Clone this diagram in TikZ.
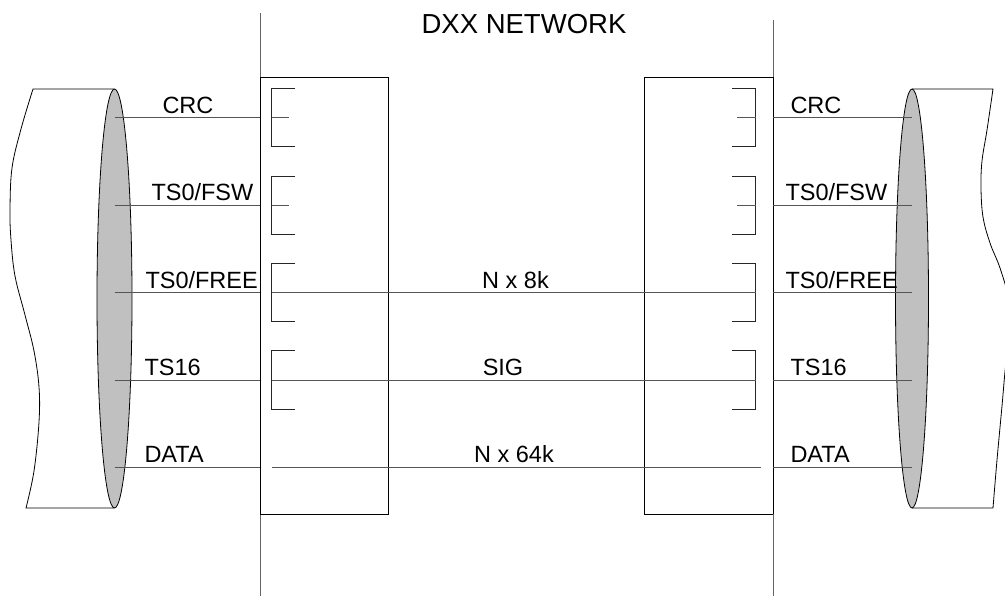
\documentclass[tikz,border=0pt]{standalone}
\usepackage{fontspec}
\setmainfont{Liberation Sans}
\usetikzlibrary{shapes.geometric}
\definecolor{sig}{RGB}{85,85,85}
\definecolor{net}{RGB}{100,100,100}
\definecolor{cylfill}{RGB}{192,192,192}
\begin{document}
\begin{tikzpicture}[x=1pt,y=-1pt,line width=1pt,
  lbl/.style={font=\fontsize{23.5}{28}\selectfont,inner sep=0pt,anchor=base west},
  mid/.style={font=\fontsize{23.5}{28}\selectfont,inner sep=0pt,anchor=base},
  title/.style={font=\fontsize{27.5}{32}\selectfont,inner sep=0pt,anchor=base},
  sigline/.style={draw=sig,line width=1pt},
  netline/.style={draw=net,line width=1pt},
  boxline/.style={draw=black,line width=1pt},
  brk/.style={draw=black!85,line width=1pt},
  cyl/.style={draw=black,line width=0.8pt},
  face/.style={draw=black,line width=0.8pt,fill=cylfill}]
\useasboundingbox (0,0) rectangle (1005,596);
\clip (0,0) rectangle (1005,596);

% network boundary lines
\coordinate (NLtop) at (260,13);
\coordinate (NLbot) at (260,596);
\coordinate (NRtop) at (773,20);
\coordinate (NRbot) at (773,596);
\draw[netline] (NLtop) -- (NLbot);
\draw[netline] (NRtop) -- (NRbot);
\node[title] (dxx) at (524,34) {DXX NETWORK};

% boxes
\coordinate (BLa) at (260,78);
\coordinate (BLb) at (388.5,514);
\coordinate (BRa) at (644,78);
\coordinate (BRb) at (773,514);
\draw[boxline] (BLa) -| (BLb) -| (BLa);
\draw[boxline] (BRb) -| (BRa) -| (BRb);

% left cylinder
\draw[cyl] (114,89) -- plot[smooth,tension=0.6] coordinates {(33,89) (21,129) (12,168) (10,210) (11,240) (15,276) (25,315) (34,351) (39,387) (39,422) (34,471) (26,508)} -- (114,508);
\node[face,ellipse,minimum width=35pt,minimum height=419pt,inner sep=0pt] (cylL) at (114.5,298.5) {};
% right cylinder
\draw[cyl] (912,89) -- plot[smooth,tension=0.6] coordinates {(993,89) (987,130) (982,161) (981,188) (983,217) (990,243) (1000,268) (1009,300) (1011,330) (1006,362) (1002,406) (997,460) (993,508)} -- (912,508);
\node[face,ellipse,minimum width=33pt,minimum height=419pt,inner sep=0pt] (cylR) at (912,298.5) {};

% rows
\foreach \i/\y/\ltxt/\lx/\rtxt/\rx in {1/118/CRC/162/CRC/790, 2/205.5/TS0\slash FSW/151/TS0\slash FSW/785, 3/293/TS0\slash FREE/145/TS0\slash FREE/785, 4/380/TS16/144/TS16/790, 5/467/DATA/144/DATA/790}{
  \coordinate (la\i) at (114.5,\y);
  \coordinate (lb\i) at (260,\y);
  \coordinate (ra\i) at (773,\y);
  \coordinate (rb\i) at (912,\y);
  \draw[sigline] (la\i) -- (lb\i);
  \draw[sigline] (ra\i) -- (rb\i);
  \node[lbl] (ll\i) at (\lx,\y-4.5) {\ltxt};
  \node[lbl] (rl\i) at (\rx,\y-4.5) {\rtxt};
}

% brackets
\foreach \i/\y in {1/118, 2/205.5, 3/293, 4/380}{
  \coordinate (bl\i) at (271.5,\y);
  \coordinate (br\i) at (755.5,\y);
  \draw[brk] (295,\y-29) -- (271.5,\y-29) -- (271.5,\y+29) -- (295,\y+29);
  \draw[sigline] (bl\i) -- (289,\y);
  \draw[brk] (732,\y-29) -- (755.5,\y-29) -- (755.5,\y+29) -- (732,\y+29);
  \draw[sigline] (737,\y) -- (br\i);
}

% through connections
\draw[sigline] (bl3) -- (br3);
\draw[sigline] (bl4) -- (br4);
\coordinate (d1) at (272,467);
\coordinate (d2) at (761,467);
\draw[sigline] (d1) -- (d2);
\node[mid] (n8) at (515.5,288.5) {N x 8k};
\node[mid] (sg) at (503,375.5) {SIG};
\node[mid] (n64) at (514,462.5) {N x 64k};
\end{tikzpicture}
\end{document}
